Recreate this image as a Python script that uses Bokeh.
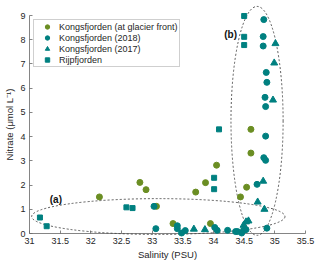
from bokeh.plotting import figure
from bokeh.models import Range1d, FixedTicker
from bokeh.core.properties import value
from bokeh.embed import file_html
from bokeh.resources import INLINE

# ---- data (salinity PSU, nitrate umol/L) ----
glacier_sal = [32.14, 32.80, 32.90, 33.07, 33.34, 33.71, 33.87, 33.95, 34.05, 34.44, 34.54, 34.61, 34.61]
glacier_no3 = [1.51, 2.11, 1.81, 1.12, 0.41, 1.71, 2.10, 0.41, 2.82, 1.51, 1.91, 3.32, 4.30]

k2018_sal = [34.82, 34.81, 34.81, 34.86, 34.87, 34.84, 34.85, 34.85, 34.82, 34.85, 34.71, 34.87,
             33.03, 33.06, 33.41, 33.41, 33.48, 33.54, 34.02, 34.06, 34.23, 34.36, 34.39, 34.46, 34.49, 34.53]
k2018_no3 = [8.83, 8.13, 7.74, 6.65, 6.24, 5.62, 5.24, 4.02, 3.13, 3.02, 2.03, 0.22,
             1.12, 0.20, 0.32, 0.20, 0.02, 0.12, 0.25, 0.13, 0.13, 0.08, 0.08, 0.02, 0.13, 0.16]

k2017_sal = [35.01, 34.99, 34.97, 34.81, 34.72, 34.83, 33.68, 33.86, 34.49, 34.53, 34.57]
k2017_no3 = [7.84, 7.04, 5.51, 2.16, 1.30, 1.00, 0.18, 0.16, 0.34, 0.48, 0.52]

rijp_sal = [31.17, 31.28, 32.58, 32.68, 34.01, 34.01, 34.09, 34.50, 34.50, 34.50]
rijp_no3 = [0.66, 0.30, 1.08, 1.05, 1.83, 2.30, 4.30, 8.98, 8.12, 7.78]

# grouping ellipses (a) and (b)
ell_x = [33.10, 34.71]
ell_y = [0.70, 4.65]
ell_w = [4.13, 0.85]
ell_h = [1.48, 9.45]

label_x = [31.43, 34.28]
label_y = [1.41, 8.23]
label_text = ["(a)", "(b)"]

x_ticks = [31, 31.5, 32, 32.5, 33, 33.5, 34, 34.5, 35, 35.5]
x_tick_labels = ["31", "31.5", "32", "32.5", "33", "33.5", "34", "34.5", "35", "35.5"]
y_ticks = [0, 1, 2, 3, 4, 5, 6, 7, 8, 9]

OLIVE = "#6b8e23"
TEAL = "#008080"
FONT = "Liberation Sans"
TXT = "#262626"
AX = "#666666"

p = figure(width=320, height=265, x_range=Range1d(31, 35.5), y_range=Range1d(0, 9),
           output_backend="svg", toolbar_location=None,
           min_border_left=29, min_border_right=15, min_border_top=15, min_border_bottom=32)
p.outline_line_color = None
p.grid.visible = False

p.ellipse(x=ell_x, y=ell_y, width=ell_w, height=ell_h, fill_color=None,
          line_color="#333333", line_dash="2 2", line_width=0.8, level="overlay")

p.scatter(glacier_sal, glacier_no3, marker="circle", size=6, fill_color=OLIVE, line_color=OLIVE,
          legend_label="Kongsfjorden (at glacier front)", level="overlay")
p.scatter(k2018_sal, k2018_no3, marker="circle", size=6, fill_color=TEAL, line_color=TEAL,
          legend_label="Kongsfjorden (2018)", level="overlay")
p.scatter(k2017_sal, k2017_no3, marker="triangle", size=7, fill_color=TEAL, line_color=TEAL,
          legend_label="Kongsfjorden (2017)", level="overlay")
p.scatter(rijp_sal, rijp_no3, marker="square", size=5, fill_color=TEAL, line_color=TEAL,
          legend_label="Rijpfjorden", level="overlay")

p.text(x=label_x, y=label_y, text=label_text, text_font=value(FONT), text_font_size="10px",
       text_font_style="bold", text_align="center", text_baseline="middle", text_color="#111111")

for ax in (p.xaxis[0], p.yaxis[0]):
    ax.axis_line_color = AX
    ax.axis_line_width = 0.8
    ax.major_tick_line_color = AX
    ax.major_tick_line_width = 0.8
    ax.major_tick_in = 3
    ax.major_tick_out = 0
    ax.minor_tick_line_color = None
    ax.major_label_text_font = FONT
    ax.major_label_text_font_size = "9px"
    ax.major_label_text_color = TXT
    ax.axis_label_text_font = FONT
    ax.axis_label_text_font_size = "9.5px"
    ax.axis_label_text_font_style = "normal"
    ax.axis_label_text_color = TXT

p.xaxis.ticker = FixedTicker(ticks=x_ticks)
p.xaxis.major_label_overrides = {float(t): l for t, l in zip(x_ticks, x_tick_labels)}
p.xaxis.axis_label = "Salinity (PSU)"
p.xaxis.major_label_standoff = 4
p.xaxis.axis_label_standoff = 2

p.yaxis.ticker = FixedTicker(ticks=y_ticks)
p.yaxis.axis_label = "Nitrate (μmol L⁻¹)"
p.yaxis.major_label_standoff = 4
p.yaxis.axis_label_standoff = 2

lg = p.legend[0]
lg.location = "top_left"
lg.margin = 4
lg.padding = 1
lg.spacing = 0
lg.glyph_width = 24
lg.glyph_height = 11
lg.label_height = 11
lg.label_standoff = 0
lg.label_text_font = FONT
lg.label_text_font_size = "9px"
lg.label_text_color = TXT
lg.border_line_color = "#a0a0a0"
lg.border_line_width = 1
lg.background_fill_color = "white"
lg.background_fill_alpha = 1.0

open("out.html", "w").write(file_html(p, INLINE))
